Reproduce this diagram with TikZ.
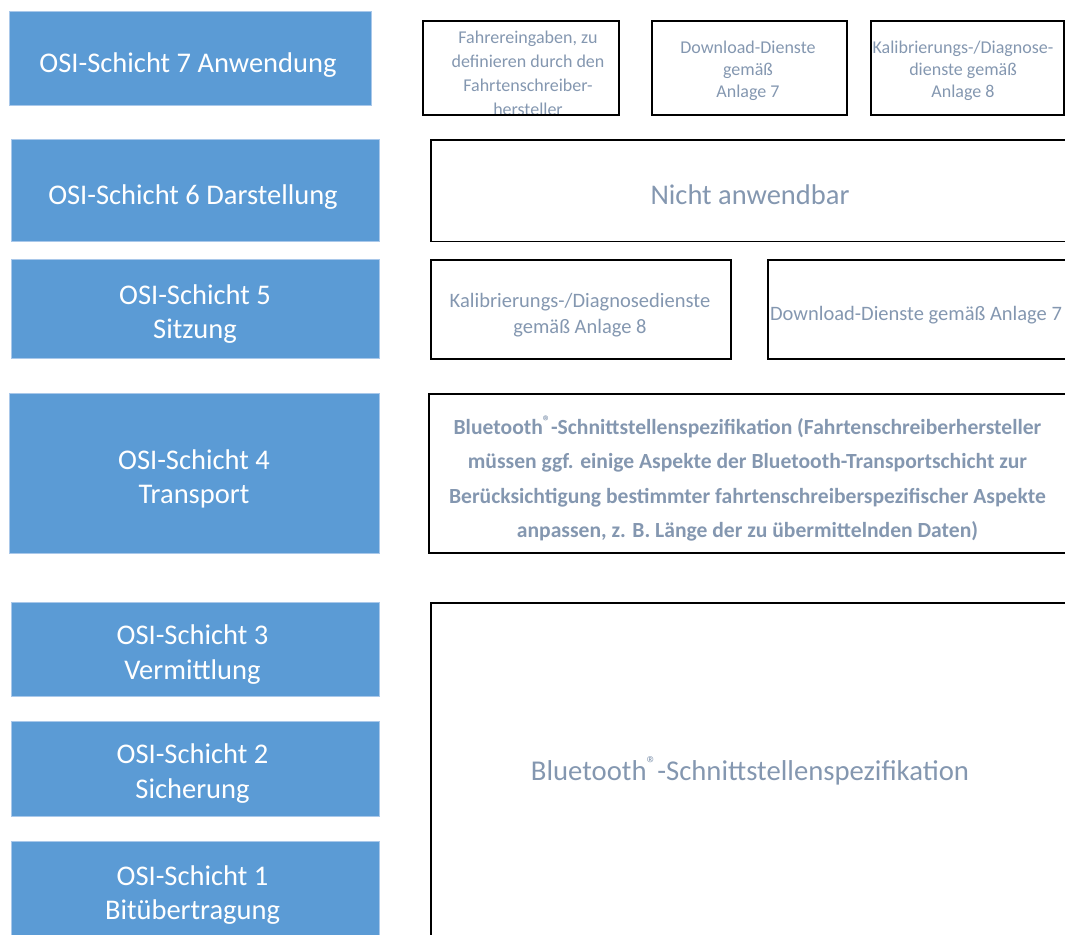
\documentclass[tikz,border=0pt]{standalone}
\usepackage{fontspec}
\setmainfont{Carlito}
\definecolor{layerfill}{HTML}{5B9BD5}
\definecolor{layeredge}{HTML}{A9C8EA}
\definecolor{specgray}{HTML}{8497B0}
\newcommand{\btreg}{\textsuperscript{\textregistered}}
\begin{document}
\begin{tikzpicture}[x=1pt,y=-1pt,
  layerbox/.style={draw=layeredge, fill=layerfill, line width=0.8pt, inner sep=0pt},
  layertext/.style={text=white, align=center, inner sep=0pt, anchor=base,
    font=\fontsize{28.5}{34.5}\selectfont},
  specbox/.style={draw=black, line width=1.5pt, inner sep=0pt},
  spectext/.style={text=specgray, align=center, inner sep=0pt, anchor=base},
]
\useasboundingbox (0,0) rectangle (1065,934);
\clip (0,0) rectangle (1065,934);

% OSI layers (left column); text nodes are placed by the baseline of their last line
\node[layerbox, minimum width=362pt, minimum height=94pt]  (l7) at (190,58) {};
\node[layerbox, minimum width=368pt, minimum height=102pt] (l6) at (195,190) {};
\node[layerbox, minimum width=368pt, minimum height=99pt]  (l5) at (195,308.5) {};
\node[layerbox, minimum width=370pt, minimum height=160pt] (l4) at (194,473) {};
\node[layerbox, minimum width=368pt, minimum height=94pt]  (l3) at (195,649) {};
\node[layerbox, minimum width=368pt, minimum height=95pt]  (l2) at (195,768.5) {};
\node[layerbox, minimum width=368pt, minimum height=119pt] (l1) at (195,900.5) {};

\node[layertext] (t7) at (188,72.5) {OSI-Schicht 7 Anwendung};
\node[layertext] (t6) at (193,204) {OSI-Schicht 6 Darstellung};
\node[layertext] (t5) at (195,338.5) {OSI-Schicht 5\\Sitzung};
\node[layertext] (t4) at (194,503.5) {OSI-Schicht 4\\Transport};
\node[layertext] (t3) at (192.5,679) {OSI-Schicht 3\\Vermittlung};
\node[layertext] (t2) at (192.5,798) {OSI-Schicht 2\\Sicherung};
\node[layertext] (t1) at (192.5,919.5) {OSI-Schicht 1\\Bitübertragung};

% Protocol contents (right column)
\node[spectext, font=\fontsize{18}{23.7}\selectfont] (a7t) at (528,115)
  {Fahrereingaben, zu\\definieren durch den\\Fahrtenschreiber-\\hersteller};
\node[spectext, font=\fontsize{18}{21.7}\selectfont] (b7t) at (748,97.4)
  {Download-Dienste\\gemäß\\Anlage 7};
\node[spectext, font=\fontsize{18}{21.7}\selectfont] (c7t) at (963,97)
  {Kalibrierungs-/Diagnose-\\dienste gemäß\\Anlage 8};
\node[spectext, font=\fontsize{28.5}{30}\selectfont] (s6t) at (750,204) {Nicht anwendbar};
\node[spectext, font=\fontsize{20.5}{26}\selectfont] (a5t) at (580,333)
  {Kalibrierungs-/Diagnosedienste\\gemäß Anlage 8};
\node[spectext, font=\fontsize{20.5}{26}\selectfont] (b5t) at (916,320)
  {Download-Dienste gemäß Anlage 7};
\node[spectext, font=\bfseries\fontsize{21.6}{34.5}\selectfont] (s4t) at (747.5,537.5)
  {Bluetooth\btreg-Schnittstellenspezifikation (Fahrtenschreiberhersteller\\
   müssen ggf. einige Aspekte der Bluetooth-Transportschicht zur\\
   Berücksichtigung bestimmter fahrtenschreiberspezifischer Aspekte\\
   anpassen, z. B. Länge der zu übermittelnden Daten)};
\node[spectext, font=\fontsize{28.7}{30}\selectfont] (s1t) at (750,780)
  {Bluetooth\btreg-Schnittstellenspezifikation};

\node[specbox, minimum width=196pt, minimum height=94pt]    (a7) at (521,68) {};
\node[specbox, minimum width=195pt, minimum height=94pt]    (b7) at (749.5,68) {};
\node[specbox, minimum width=193pt, minimum height=94pt]    (c7) at (967.5,68) {};
\node[specbox, minimum width=641pt, minimum height=101.5pt] (s6) at (751.5,190.75) {};
\node[specbox, minimum width=300pt, minimum height=99pt]    (a5) at (581,309.5) {};
\node[specbox, minimum width=304pt, minimum height=99pt]    (b5) at (920,309.5) {};
\node[specbox, minimum width=643pt, minimum height=159pt]   (s4) at (750.5,473.5) {};
\node[specbox, minimum width=641pt, minimum height=357pt]   (s1) at (751.5,781.5) {};
\end{tikzpicture}
\end{document}
